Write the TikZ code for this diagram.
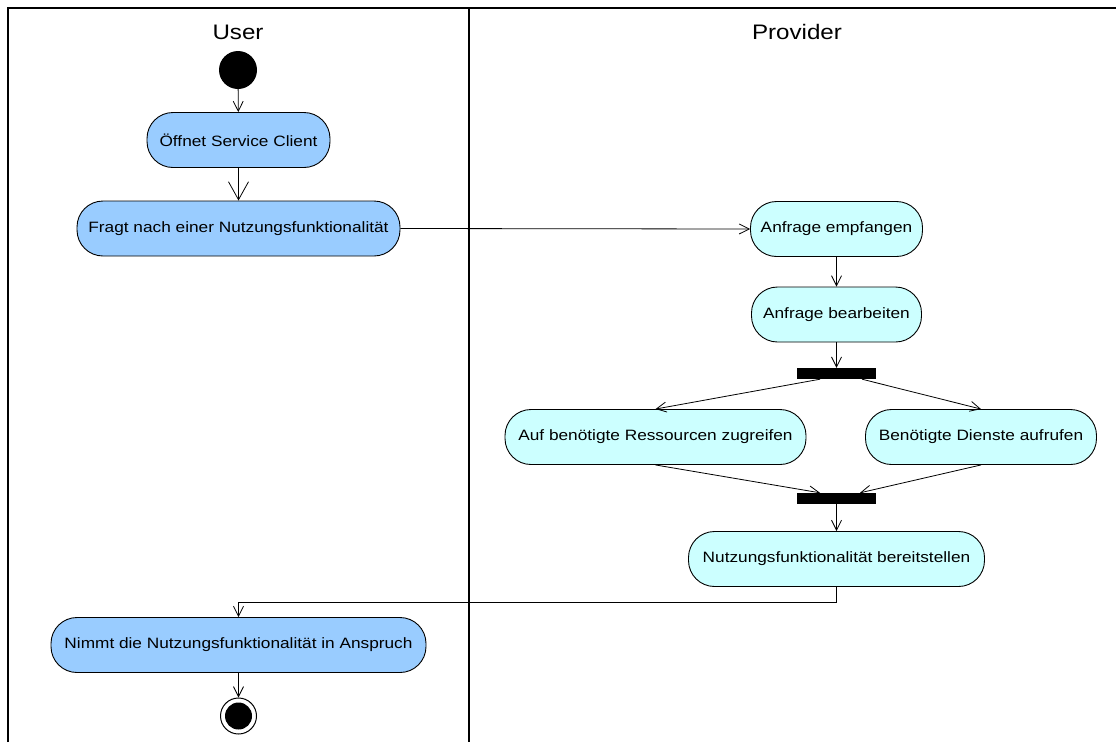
\documentclass[tikz,border=0pt]{standalone}
\usepackage{fontspec}
\setmainfont{Liberation Sans}[FakeStretch=1.15]
\usetikzlibrary{arrows.meta}
\definecolor{userfill}{HTML}{99CCFF}
\definecolor{provfill}{HTML}{CCFFFF}
\begin{document}
\begin{tikzpicture}[x=1pt,y=-1pt,
  action/.style={draw=black, line width=0.9pt, rounded corners=26pt,
    minimum height=55pt, inner sep=0pt, font=\fontsize{15}{18}\selectfont},
  useract/.style={action, fill=userfill},
  provact/.style={action, fill=provfill},
  syncbar/.style={fill=black, draw=none, minimum width=79pt,
    minimum height=11pt, inner sep=0pt},
  flow/.style={draw=black, line width=0.8pt,
    -{Straight Barb[length=10pt,width=10pt]}},
  lane/.style={draw=black, line width=2pt},
  title/.style={font=\fontsize{21}{24}\selectfont}
]
\useasboundingbox (0,0) rectangle (1116,742);

% swimlane frame
\draw[lane] (8,742) -- (8,8) -- (1116,8);
\draw[lane] (469,8) -- (469,742);
\node[title] (usertitle) at (238,32) {User};
\node[title] (provtitle) at (797,32) {Provider};

% user lane
\node[circle, fill=black, minimum size=38pt, inner sep=0pt] (start) at (238,70) {};
\node[useract, minimum width=183pt] (open) at (238.5,140) {Öffnet Service Client};
\node[useract, minimum width=323pt] (ask) at (238.5,228.5) {Fragt nach einer Nutzungsfunktionalität};
\node[useract, minimum width=375pt] (use) at (238.5,645) {Nimmt die Nutzungsfunktionalität in Anspruch};
\node[circle, draw=black, line width=1pt, fill=white, minimum size=36pt, inner sep=0pt,
  path picture={\fill[black] (path picture bounding box.center) circle (13.5pt);}]
  (end) at (238.5,716) {};

% provider lane
\node[provact, minimum width=172pt] (recv) at (836.5,229) {Anfrage empfangen};
\node[provact, minimum width=170pt] (proc) at (836.5,314.5) {Anfrage bearbeiten};
\node[syncbar] (fork) at (836.5,373.5) {};
\node[provact, minimum width=301pt] (res) at (655.5,437) {Auf benötigte Ressourcen zugreifen};
\node[provact, minimum width=231pt] (svc) at (981,437) {Benötigte Dienste aufrufen};
\node[syncbar] (join) at (836.5,498.5) {};
\node[provact, minimum width=296pt] (deliv) at (836.5,559) {Nutzungsfunktionalität bereitstellen};

% control flow
\draw[flow] (start) -- (open);
\draw[flow, -{Straight Barb[length=18pt,width=20pt]}] (open) -- (ask);
\draw[flow] (ask.east) -- (recv.west);
\draw[flow] (recv) -- (proc);
\draw[flow] (proc) -- (fork);
\draw[flow] ([xshift=-16.5pt]fork.south) -- (res.north);
\draw[flow] ([xshift=25.5pt]fork.south) -- (svc.north);
\draw[flow] (res.south) -- ([xshift=-16.5pt]join.north);
\draw[flow] (svc.south) -- ([xshift=23.5pt]join.north);
\draw[flow] (join) -- (deliv);
\draw[flow] (deliv.south) -- ++(0,15) -| (use.north);
\draw[flow] (use) -- (end);
\end{tikzpicture}
\end{document}
